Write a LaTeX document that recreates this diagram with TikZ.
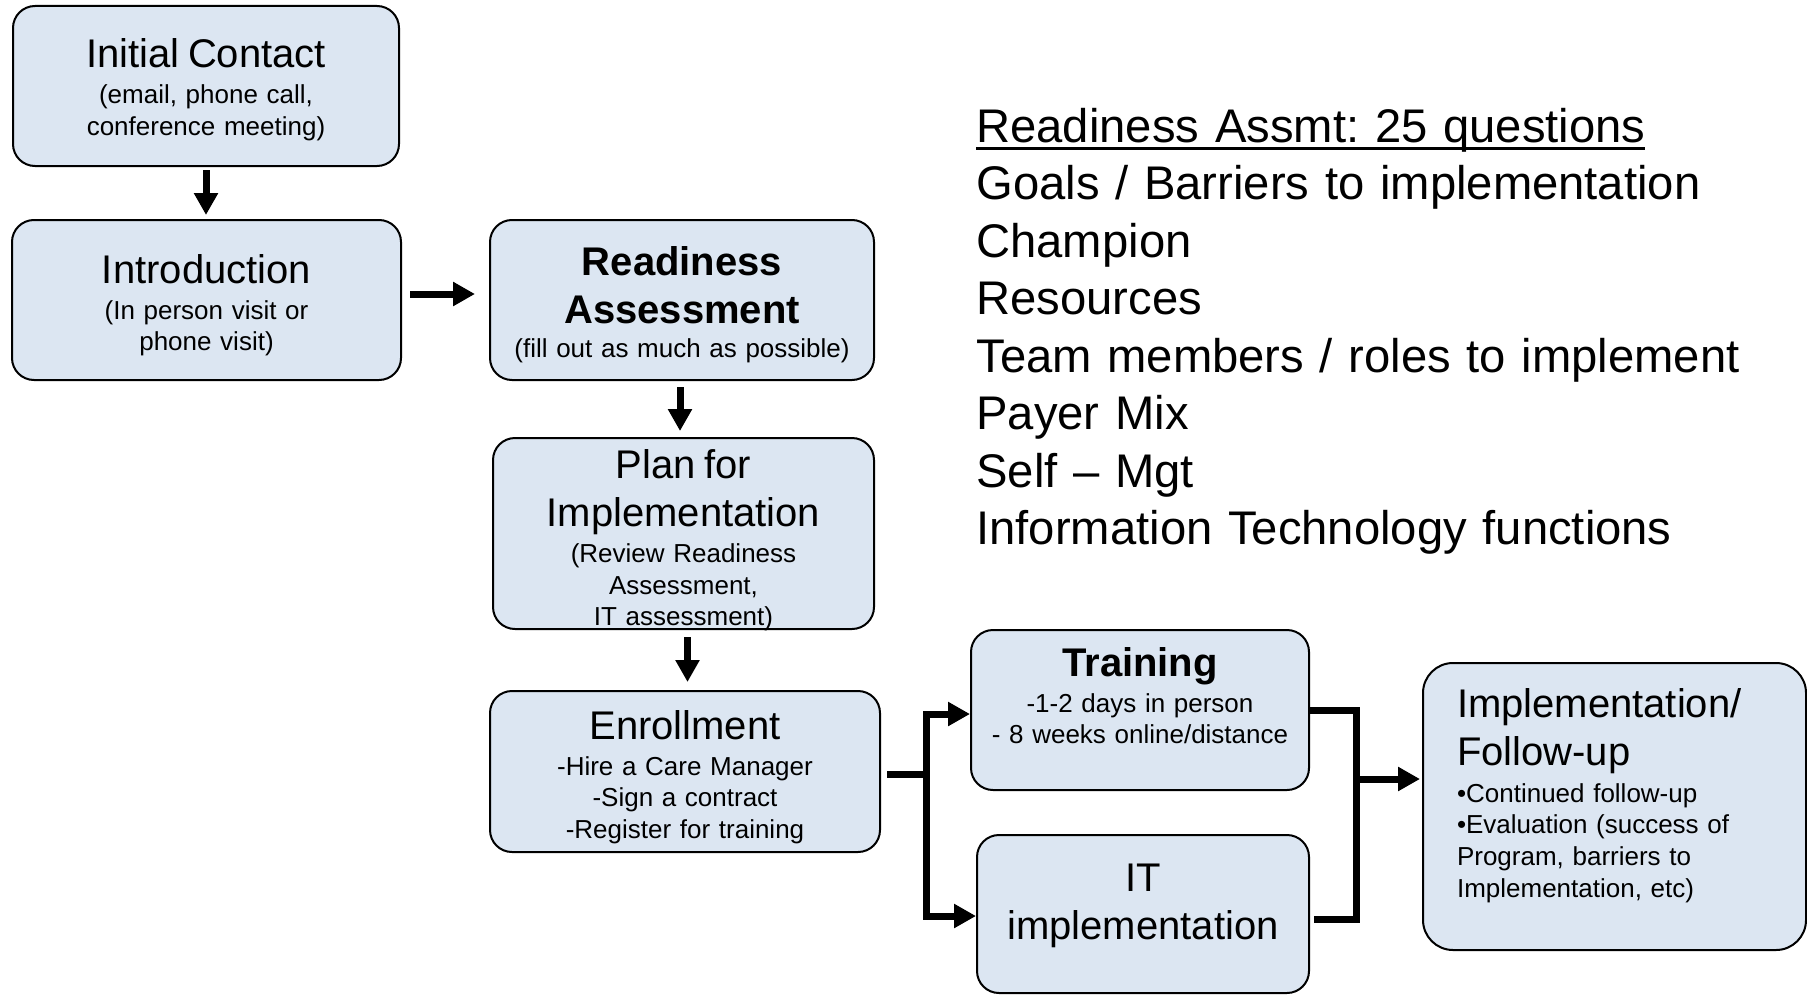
\documentclass[tikz,border=0pt]{standalone}
\usepackage{fontspec}
\setmainfont{Liberation Sans}
\usetikzlibrary{arrows.meta,calc}
\frenchspacing

\definecolor{boxblue}{RGB}{220,230,242}
\newcommand{\boxtitle}{\fontsize{20}{24}\selectfont}
\newcommand{\boxsub}{\fontsize{13}{15.8}\selectfont}
\newcommand{\ruleunder}[1]{\setbox0\hbox{#1}\rlap{\rule[-3.8pt]{\wd0}{1.6pt}}\box0}

\tikzset{
  box/.style={draw=black, line width=1pt, fill=boxblue, rounded corners=11pt,
    inner sep=4pt, align=center, font=\boxsub},
  link/.style={line width=3.5pt},
  flow/.style={link, -{Triangle[length=11pt,width=11.5pt]}}
}

\begin{document}
\begin{tikzpicture}[x=0.5pt,y=-0.5pt]
  \useasboundingbox (0,0) rectangle (1807,995);

  % left column
  \node[box, text width=185pt, minimum height=80pt] (init) at (206,86)
    {\boxtitle\rule{0pt}{18.3pt}Initial Contact\\[3pt] \fontsize{13}{15}\selectfont (email, phone call,\\ conference meeting)};
  \node[box, text width=186.5pt, minimum height=80pt] (intro) at (206.5,300)
    {\boxtitle\rule{0pt}{19.8pt}Introduction\\[2pt] \boxsub (In person visit or\\ phone visit)};

  % middle column
  \node[box, text width=184pt, minimum height=80pt] (ready) at (682,300)
    {\boxtitle\bfseries\rule{0pt}{19pt}Readiness\\ Assessment\\[1pt] \boxsub\mdseries (fill out as much as possible)};
  \node[box, text width=182.5pt, minimum height=95.5pt, inner ysep=1pt] (plan) at (683.5,533.5)
    {\boxtitle Plan for\\ Implementation\\[2pt] \boxsub (Review Readiness\\ Assessment,\\ IT assessment)\\[-20.1pt] \mbox{}};
  \node[box, text width=187pt, minimum height=80.5pt] (enroll) at (685,771.5)
    {\boxtitle\rule{0pt}{20pt}Enrollment\\[2pt] \boxsub -Hire a Care Manager\\ -Sign a contract\\ -Register for training};

  % right column
  \node[box, text width=161pt, minimum height=80pt] (train) at (1140,710)
    {\boxtitle\bfseries Training\\[2pt] \boxsub\mdseries -1-2 days in person\\ - 8 weeks online/distance\\[-1.3pt] \mbox{}};
  \node[box, text width=158pt, minimum height=79pt] (it) at (1143,914)
    {\boxtitle IT\\ implementation\\[-3.9pt] \mbox{}};
  \node[box, text width=157.5pt, inner xsep=17pt, minimum height=143.5pt,
    rounded corners=15pt, align=left] (follow) at (1614.5,806.5)
    {\boxtitle Implementation/\\ Follow-up\\[2.2pt] \fontsize{13}{15.9}\selectfont •Continued follow-up\\ •Evaluation (success of\\ Program, barriers to\\ Implementation, etc)\\[-2.4pt] \mbox{}};

  % readiness questions
  \node[anchor=north west, inner sep=0pt, text width=400pt, align=left,
    font=\fontsize{23.6}{28.75}\selectfont] (questions) at (976,107.5)
    {\ruleunder{Readiness Assmt: 25 questions}\\
     Goals / Barriers to implementation\\
     Champion\\
     Resources\\
     Team members / roles to implement\\
     Payer Mix\\
     Self – Mgt\\
     Information Technology functions};

  % arrows
  \draw[flow, shorten <=1.5pt, shorten >=2pt] (init.south) -- (init.south |- intro.north);
  \draw[flow, shorten <=4pt, shorten >=7pt] ([yshift=3pt]intro.east) -- ([yshift=3pt]intro.east -| ready.west);
  \draw[flow, shorten <=3pt, shorten >=3pt] ([xshift=-1pt]ready.south) -- ([xshift=-1pt]ready.south |- plan.north);
  \draw[flow, shorten <=3.5pt, shorten >=4pt] ([xshift=2pt]plan.south) -- ([xshift=2pt]plan.south |- enroll.north);

  % split to training and IT
  \coordinate (split) at ([xshift=22.5pt,yshift=-1.25pt]enroll.east);
  \draw[link, shorten <=3pt] (enroll.east |- split) -- (split);
  \draw[flow] (split) |- ([yshift=-2pt]train.west);
  \draw[flow] (split) |- ([yshift=-1pt]it.west);

  % join to follow-up
  \coordinate (merge) at ([xshift=-33pt,yshift=13.75pt]follow.west);
  \draw[link] (train.east) -| (merge) |- ([xshift=2pt,yshift=-2.5pt]it.east);
  \draw[flow, shorten >=1pt] (merge) -- (merge -| follow.west);
\end{tikzpicture}
\end{document}
